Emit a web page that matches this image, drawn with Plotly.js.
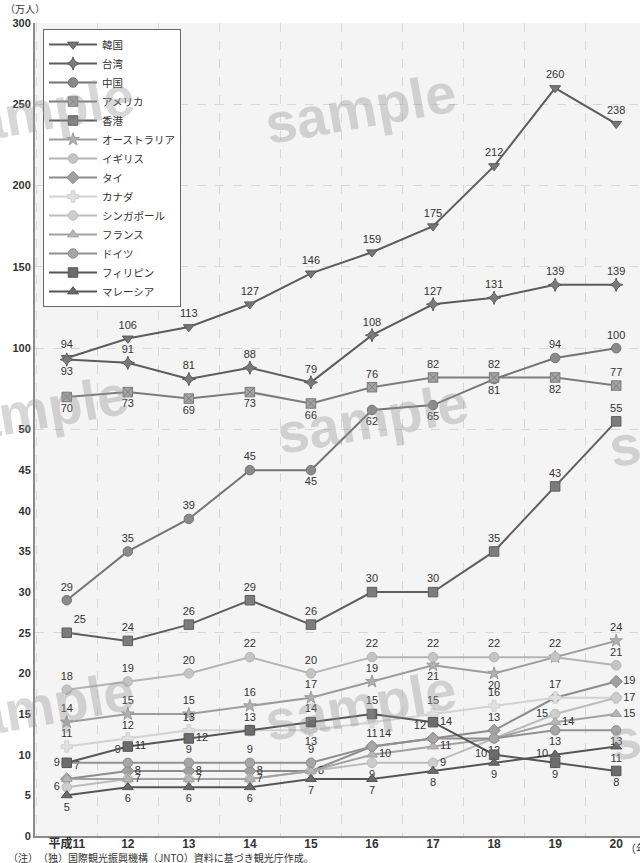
<!DOCTYPE html>
<html>
<head>
<meta charset="utf-8">
<script src="https://cdn.plot.ly/plotly-3.0.1.min.js"></script>
<style>html,body{margin:0;padding:0;background:#fff;}#chart{width:640px;height:863px;}</style>
</head>
<body>
<div id="chart"></div>
<script>
// ---- data ----
const categories = ['平成11','12','13','14','15','16','17','18','19','20'];
const seriesNames = ['韓国','台湾','中国','アメリカ','香港','オーストラリア','イギリス','タイ','カナダ','シンガポール','フランス','ドイツ','フィリピン','マレーシア'];
const korea       = [94,106,113,127,146,159,175,212,260,238];
const taiwan      = [93,91,81,88,79,108,127,131,139,139];
const china       = [29,35,39,45,45,62,65,81,94,100];
const usa         = [70,73,69,73,66,76,82,82,82,77];
const hongkong    = [25,24,26,29,26,30,30,35,43,55];
const australia   = [14,15,15,16,17,19,21,20,22,24];
const uk          = [18,19,20,22,20,22,22,22,22,21];
const thailand    = [7,8,8,8,8,11,12,13,17,19];
const canada      = [11,12,13,13,13,14,15,16,17,17];
const singapore   = [6,7,7,7,8,9,9,12,15,17];
const france      = [7,7,7,7,8,10,11,12,14,15];
const germany     = [9,9,9,9,9,11,12,12,13,13];
const philippines = [9,11,12,13,14,15,14,10,9,8];
const malaysia    = [5,6,6,6,7,7,8,9,10,11];
const yTickValues = [0,5,10,15,20,25,30,35,40,45,50,100,150,200,250,300];
const yGridValues = [25,50,100,150,200,250,300];

// ---- broken axis scale: 0-50 normal, above 50 compressed 1:5 ----
const BREAK = 50, COMPRESS = 5;
function scaleY(v){ return v <= BREAK ? v : BREAK + (v - BREAK) / COMPRESS; }

// ---- styles (label positions per point; '' = label hidden) ----
const P = {T:'top center',B:'bottom center',R:'middle right',L:'middle left',TL:'top left',TR:'top right',BR:'bottom right',BL:'bottom left'};
const styles = [
  {line:'#5c5c5c', fill:'#767676', sym:'triangle-down', lab:['T','T','T','T','T','T','T','T','T','T']},
  {line:'#5c5c5c', fill:'#7a7a7a', sym:'star-diamond', lab:['B','T','T','T','T','T','T','T','T','T']},
  {line:'#747474', fill:'#8a8a8a', sym:'circle', lab:['T','T','T','T','B','B','B','B','T','T']},
  {line:'#7c7c7c', fill:'#a4a4a4', sym:'square-x', lab:['B','B','B','B','B','T','T','T','B','T']},
  {line:'#5e5e5e', fill:'#7c7c7c', sym:'square', lab:['TR','T','T','T','T','T','T','T','T','T']},
  {line:'#9c9c9c', fill:'#b0b0b0', sym:'star', lab:['T','T','T','T','T','T','B','B','','T']},
  {line:'#b4b4b4', fill:'#c4c4c4', sym:'circle', lab:['T','T','T','T','T','T','T','T','T','T']},
  {line:'#8c8c8c', fill:'#a0a0a0', sym:'diamond', lab:['TR','R','R','R','R','','','T','','R']},
  {line:'#d2d2d2', fill:'#e0e0e0', sym:'cross', lab:['T','T','T','T','B','BR','T','T','T','R']},
  {line:'#bcbcbc', fill:'#cdcdcd', sym:'circle', lab:['L','','','','','B','R','','L','']},
  {line:'#a2a2a2', fill:'#b6b6b6', sym:'triangle-up', lab:['','R','R','R','','R','R','','R','R']},
  {line:'#909090', fill:'#a6a6a6', sym:'circle', lab:['','TL','T','T','T','T','TL','B','B','B']},
  {line:'#565656', fill:'#6c6c6c', sym:'square', lab:['L','R','R','','T','T','R','L','B','B']},
  {line:'#555555', fill:'#6a6a6a', sym:'triangle-up', lab:['B','B','B','B','B','B','B','B','L','B']}
];
const seriesValues = [korea,taiwan,china,usa,hongkong,australia,uk,thailand,canada,singapore,france,germany,philippines,malaysia];

const traces = seriesValues.map((vals,i)=>{
  const s = styles[i];
  return {
    type:'scatter', mode:'lines+markers+text', name:seriesNames[i],
    x:categories, y:vals.map(scaleY),
    text:vals.map((v,j)=> s.lab[j] ? String(v) : ''),
    textposition:s.lab.map(k=> k ? P[k] : 'top center'),
    textfont:{family:'Liberation Sans, Arial, sans-serif', size:11, color:'#333'},
    line:{color:s.line, width:2},
    marker:{symbol:s.sym, size:9.5, color:s.fill, line:{color:s.line, width:1}},
    cliponaxis:false, hoverinfo:'skip'
  };
});

// pixel helpers for annotations outside data
const M = {l:35, r:0, t:23, b:27}, W = 640, H = 863;
const pw = W - M.l - M.r, ph = H - M.t - M.b;
const px = x => (x - M.l) / pw;
const py = y => 1 - (y - M.t) / ph;

const wm = (x,y)=>({xref:'paper',yref:'paper',x:px(x),y:py(y),text:'sample',showarrow:false,
  textangle:-10,font:{family:'Liberation Sans, Arial, sans-serif',size:56,color:'rgba(150,150,150,0.38)',weight:'bold'},
  xanchor:'center',yanchor:'middle'});

const layout = {
  width:W, height:H, margin:M,
  paper_bgcolor:'#ffffff', plot_bgcolor:'#f4f4f4',
  showlegend:true,
  xaxis:{type:'category', range:[-0.52, 9.39], showline:true, linecolor:'#8a8a8a', linewidth:2,
    showgrid:true, gridcolor:'#d8d8d8', griddash:'dash', gridwidth:1, tickson:'boundaries', ticks:'',
    ticklabelstandoff:-4,
    tickfont:{family:'Liberation Sans, Noto Sans CJK JP, sans-serif', size:12, color:'#333', weight:'bold'},
    zeroline:false, fixedrange:true},
  yaxis:{range:[0,100], tickmode:'array', tickvals:yTickValues.map(scaleY), ticktext:yTickValues.map(String),
    showgrid:false, showline:true, linecolor:'#8a8a8a', linewidth:2, ticks:'', zeroline:false,
    tickfont:{family:'Liberation Sans, Arial, sans-serif', size:11, color:'#333', weight:'bold'},
    minor:{tickmode:'array', tickvals:yGridValues.map(scaleY), showgrid:true, gridcolor:'#d8d8d8', griddash:'dash', gridwidth:1, ticks:''},
    fixedrange:true},
  legend:{x:px(43), y:py(29), xanchor:'left', yanchor:'top', bgcolor:'#ffffff', bordercolor:'#666', borderwidth:1,
    font:{family:'Noto Sans CJK JP, sans-serif', size:10.5, color:'#333'}, itemwidth:48, entrywidth:98, tracegroupgap:0},
  annotations:[
    wm(360,108), wm(38,112), wm(372,418), wm(32,410), wm(704,432), wm(360,705), wm(38,706), wm(704,725),
    {xref:'paper',yref:'paper',x:px(3),y:py(8),text:'（万人）',showarrow:false,xanchor:'left',yanchor:'middle',
      font:{family:'Noto Sans CJK JP, sans-serif',size:10,color:'#333'}},
    {xref:'paper',yref:'paper',x:px(623),y:py(848),text:'（年）',showarrow:false,xanchor:'left',yanchor:'middle',
      font:{family:'Noto Sans CJK JP, sans-serif',size:11,color:'#333'}},
    {xref:'paper',yref:'paper',x:px(6),y:py(857),text:'（注）　（独）国際観光振興機構（JNTO）資料に基づき観光庁作成。',showarrow:false,xanchor:'left',yanchor:'middle',
      font:{family:'Noto Sans CJK JP, sans-serif',size:10,color:'#333'}}
  ]
};

Plotly.newPlot('chart', traces, layout, {displayModeBar:false, staticPlot:true});
</script>
</body>
</html>
